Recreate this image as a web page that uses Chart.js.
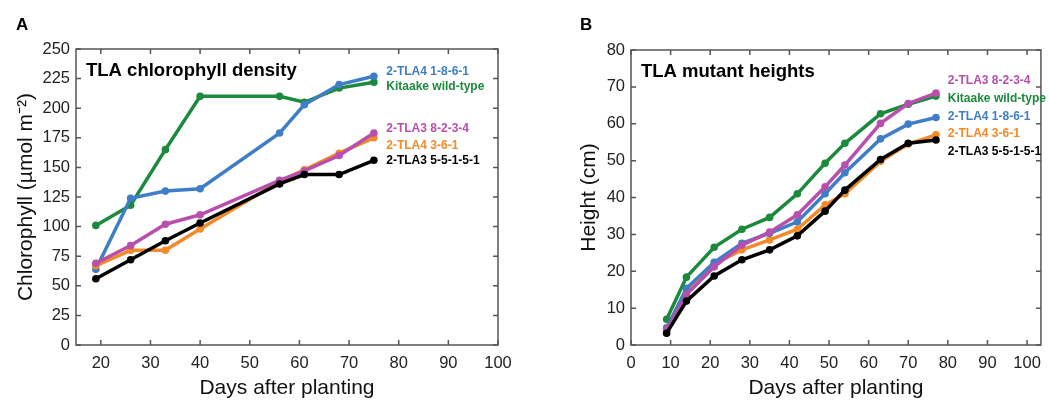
<!DOCTYPE html>
<html>
<head>
<meta charset="utf-8">
<script src="https://cdn.jsdelivr.net/npm/chart.js@4/dist/chart.umd.min.js"></script>
<style>
  body { margin: 0; background: #fff; }
  .panel { position: absolute; top: 0; width: 525px; height: 401px; }
</style>
</head>
<body>
<div class="panel" style="left:0"><canvas id="chartA" width="525" height="401"></canvas></div>
<div class="panel" style="left:525px"><canvas id="chartB" width="525" height="401"></canvas></div>
<script>
// ---- panel A: chlorophyll density ----
let daysA = [19, 26, 33, 40, 56, 61, 68, 75];
let tla4_1861_A = [64, 124, 130, 132, 179, 203, 220, 227];
let kitaake_A = [101, 118, 165, 210, 210, 205, 217, 222];
let tla3_8234_A = [69, 84, 102, 110, 139, 147, 160, 179];
let tla4_361_A = [67, 80, 80, 98, 138, 148, 162, 175];
let tla3_55151_A = [56, 72, 88, 103, 136, 144, 144, 156];

// ---- panel B: mutant heights ----
let daysB = [9, 14, 21, 28, 35, 42, 49, 54, 63, 70, 77];
let tla3_8234_B = [4, 13.7, 21.2, 27.1, 30.6, 35.3, 42.9, 48.8, 60.1, 65.5, 68.3];
let kitaake_B = [7, 18.4, 26.5, 31.4, 34.6, 41, 49.3, 54.7, 62.7, 65.3, 67.5];
let tla4_1861_B = [4.5, 15.4, 22.4, 27.6, 30.3, 33.4, 41, 46.7, 55.9, 59.9, 61.7];
let tla4_361_B = [4.7, 15, 22, 25.8, 28.5, 31.4, 38, 41, 49.8, 54.5, 57];
let tla3_55151_B = [3.2, 11.9, 18.7, 23.1, 25.8, 29.6, 36.3, 42, 50.3, 54.7, 55.6];

const C = {
    blue: '#3f7ec6',
    green: '#1b8a3c',
    magenta: '#b84fad',
    orange: '#f28a2a',
    black: '#000000'
};

function series(label, color, xs, ys) {
    return {
        label: label,
        data: xs.map((x, i) => ({x: x, y: ys[i]})),
        borderColor: color,
        backgroundColor: color,
        borderWidth: 3.5,
        pointRadius: 3.8,
        pointBorderWidth: 0,
        tension: 0
    };
}

// inward ticks on all four sides + frame
const frameTicks = {
    id: 'frameTicks',
    afterDatasetsDraw(chart) {
        const {ctx, chartArea: a, scales: {x, y}} = chart;
        ctx.save();
        ctx.strokeStyle = '#555';
        ctx.lineWidth = 1.5;
        ctx.strokeRect(a.left, a.top, a.right - a.left, a.bottom - a.top);
        const len = 5;
        ctx.beginPath();
        x.ticks.forEach(t => {
            const px = x.getPixelForValue(t.value);
            ctx.moveTo(px, a.bottom); ctx.lineTo(px, a.bottom - len);
            ctx.moveTo(px, a.top); ctx.lineTo(px, a.top + len);
        });
        y.ticks.forEach(t => {
            const py = y.getPixelForValue(t.value);
            ctx.moveTo(a.left, py); ctx.lineTo(a.left + len, py);
            ctx.moveTo(a.right, py); ctx.lineTo(a.right - len, py);
        });
        ctx.stroke();
        ctx.restore();
    }
};

// panel letter, inner title and end-of-line labels
const annotations = {
    id: 'annotations',
    afterDraw(chart, args, opts) {
        const {ctx, chartArea: a, scales: {x, y}} = chart;
        ctx.save();
        ctx.fillStyle = '#000';
        ctx.textBaseline = 'middle';
        ctx.font = 'bold 17px "Liberation Sans", Arial, sans-serif';
        ctx.fillText(opts.letter, opts.letterX, 25);
        ctx.font = 'bold 18.5px "Liberation Sans", Arial, sans-serif';
        ctx.fillText(opts.title, a.left + 10, a.top + 22);
        ctx.font = 'bold 12px "Liberation Sans", Arial, sans-serif';
        opts.labels.forEach(l => {
            ctx.fillStyle = l.color;
            ctx.fillText(l.text, x.getPixelForValue(opts.labelX), y.getPixelForValue(l.y));
        });
        ctx.restore();
    }
};

const tickFont = {family: '"Liberation Sans", Arial, sans-serif', size: 16.5};
const titleFont = {family: '"Liberation Sans", Arial, sans-serif', size: 21};

function makeOptions(xMin, xMax, yMax, yStep, yTitle, leftWidth, titleShift, pad, ann) {
    return {
        responsive: false,
        animation: false,
        layout: {padding: pad},
        plugins: {legend: {display: false}, tooltip: {enabled: false}, annotations: ann},
        scales: {
            x: {
                type: 'linear', min: xMin, max: xMax,
                grid: {display: false, drawTicks: false},
                border: {display: false},
                ticks: {stepSize: 10, includeBounds: false, color: '#222', font: tickFont, padding: 9, maxRotation: 0},
                title: {display: true, text: 'Days after planting', color: '#111', font: titleFont, padding: {top: 2, bottom: 0}},
                afterFit: s => { s.height = 56; }
            },
            y: {
                type: 'linear', min: 0, max: yMax,
                grid: {display: false, drawTicks: false},
                border: {display: false},
                ticks: {stepSize: yStep, color: '#222', font: tickFont, padding: 6},
                title: {display: true, text: yTitle, color: '#111', font: titleFont, padding: {top: titleShift, bottom: 0}},
                afterFit: s => { s.width = leftWidth; }
            }
        }
    };
}

new Chart(document.getElementById('chartA'), {
    type: 'line',
    data: {
        datasets: [
            series('2-TLA3 5-5-1-5-1', C.black, daysA, tla3_55151_A),
            series('2-TLA3 8-2-3-4', C.magenta, daysA, tla3_8234_A),
            series('2-TLA4 3-6-1', C.orange, daysA, tla4_361_A),
            series('2-TLA4 1-8-6-1', C.blue, daysA, tla4_1861_A),
            series('Kitaake wild-type', C.green, daysA, kitaake_A)
        ]
    },
    options: makeOptions(15, 100, 250, 25, 'Chlorophyll (µmol m⁻²)', 76, 14, {top: 49, right: 27, left: 0, bottom: 0}, {
        letter: 'A', letterX: 16, title: 'TLA chlorophyll density', labelX: 77.5,
        labels: [
            {text: '2-TLA4 1-8-6-1', color: C.blue, y: 230.6},
            {text: 'Kitaake wild-type', color: C.green, y: 217.9},
            {text: '2-TLA3 8-2-3-4', color: C.magenta, y: 182.4},
            {text: '2-TLA4 3-6-1', color: C.orange, y: 168},
            {text: '2-TLA3 5-5-1-5-1', color: C.black, y: 155.4}
        ]
    }),
    plugins: [frameTicks, annotations]
});

new Chart(document.getElementById('chartB'), {
    type: 'line',
    data: {
        datasets: [
            series('2-TLA3 5-5-1-5-1', C.black, daysB, tla3_55151_B),
            series('2-TLA3 8-2-3-4', C.magenta, daysB, tla3_8234_B),
            series('2-TLA4 1-8-6-1', C.blue, daysB, tla4_1861_B),
            series('Kitaake wild-type', C.green, daysB, kitaake_B),
            series('2-TLA4 3-6-1', C.orange, daysB, tla4_361_B)
        ]
    },
    options: makeOptions(0, 103.5, 80, 10, 'Height (cm)', 106, 52, {top: 50, right: 5, left: 0, bottom: 0}, {
        letter: 'B', letterX: 55, title: 'TLA mutant heights', labelX: 80,
        labels: [
            {text: '2-TLA3 8-2-3-4', color: C.magenta, y: 71.6},
            {text: 'Kitaake wild-type', color: C.green, y: 66.7},
            {text: '2-TLA4 1-8-6-1', color: C.blue, y: 61.8},
            {text: '2-TLA4 3-6-1', color: C.orange, y: 57.2},
            {text: '2-TLA3 5-5-1-5-1', color: C.black, y: 52.3}
        ]
    }),
    plugins: [frameTicks, annotations]
});
</script>
</body>
</html>
